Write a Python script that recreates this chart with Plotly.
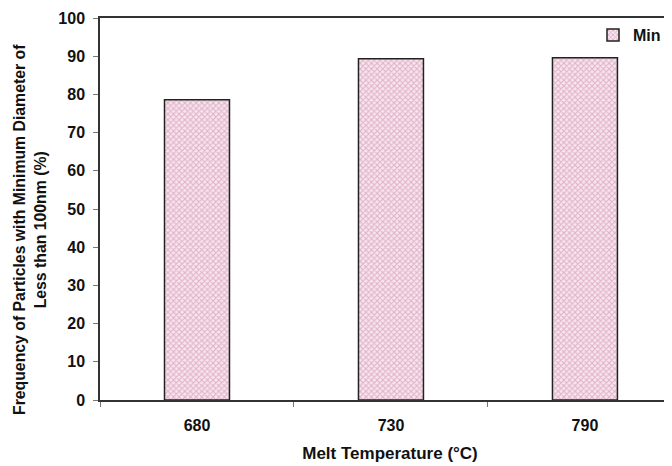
import plotly.graph_objects as go

categories = ["680", "730", "790"]
min_values = [78.6, 89.3, 89.6]
y_ticks = [0, 10, 20, 30, 40, 50, 60, 70, 80, 90, 100]
y_title = "Frequency of Particles with Minimum Diameter of<br>Less than 100nm (%)"
x_title = "Melt Temperature (°C)"

fig = go.Figure()
fig.add_trace(go.Bar(
    x=categories, y=min_values, name="Min", width=0.335,
    marker=dict(color="#f7e4ee", line=dict(color="#222", width=1.5),
                pattern=dict(shape="x", fgcolor="#c77ba0", size=4, solidity=0.45)),
    showlegend=True,
))

FAM = "Liberation Sans, Arial, sans-serif"
fig.update_layout(
    width=672, height=466,
    margin=dict(l=92, r=0, t=10, b=74, autoexpand=False),
    paper_bgcolor="white", plot_bgcolor="white",
    font=dict(family=FAM, color="#111"),
    showlegend=True,
    legend=dict(x=0.85, xanchor="left", y=1.0, yanchor="top",
                font=dict(size=16, family=FAM, color="#111", weight="bold"),
                bgcolor="rgba(0,0,0,0)", itemwidth=30, tracegroupgap=0),
    xaxis=dict(
        type="category", range=[-0.5, 2.49], automargin=False,
        showline=True, linecolor="#333", linewidth=1.5, mirror=True,
        ticks="outside", tickson="boundaries", ticklen=5, tickcolor="#777",
        ticklabelstandoff=10,
        tickfont=dict(size=16, weight="bold", family=FAM, color="#111"),
        title=dict(text=x_title, standoff=14,
                   font=dict(size=17, weight="bold", family=FAM, color="#111")),
        showgrid=False,
    ),
    yaxis=dict(
        range=[0, 100], tickvals=y_ticks, automargin=False,
        showline=True, linecolor="#333", linewidth=1.5,
        ticks="outside", ticklen=5, tickcolor="#777",
        ticklabelstandoff=5,
        tickfont=dict(size=16, weight="bold", family=FAM, color="#111"),
        showgrid=False, zeroline=False,
    ),
    annotations=[dict(
        text=y_title, textangle=-90, xref="paper", yref="paper",
        x=-0.1207, y=0.4476, xanchor="center", yanchor="middle",
        showarrow=False, align="center",
        font=dict(size=15.8, weight="bold", family=FAM, color="#111"),
    )],
)

fig.write_html("out.html")
